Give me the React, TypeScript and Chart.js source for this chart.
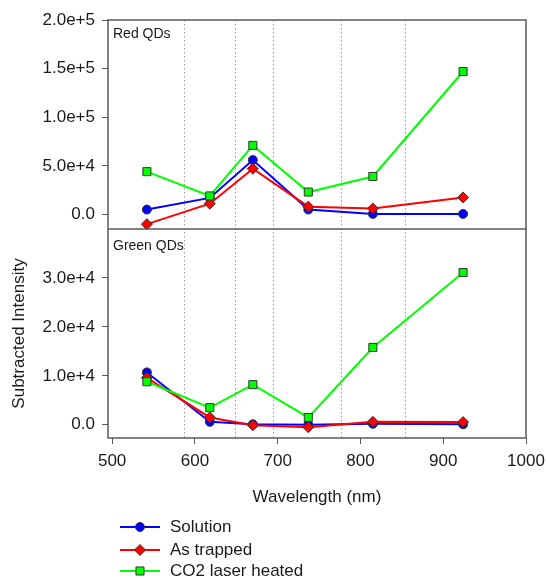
import React, { useEffect, useRef } from "react";
import { Chart, registerables } from "chart.js";

Chart.register(...registerables);

const wavelengths = [542, 618, 670, 737, 815, 924];
const redSolution = [5000, 17000, 56000, 5000, 500, 500];
const redTrapped = [-10000, 11000, 47000, 8000, 6000, 17500];
const redCO2 = [44000, 19000, 71000, 23000, 39000, 147000];
const greenSolution = [10700, 600, 100, 0, 200, 100];
const greenTrapped = [9600, 1500, -100, -500, 600, 550];
const greenCO2 = [8800, 3500, 8200, 1500, 15800, 31100];

const xTicks = [500, 600, 700, 800, 900, 1000];
const topTicks = [0, 50000, 100000, 150000, 200000];
const bottomTicks = [0, 10000, 20000, 30000];
const filterEdges = [587, 649, 694, 776, 854];

const seriesNames = ["Solution", "As trapped", "CO2 laser heated"];
const seriesColors = ["#0000ff", "#ff0000", "#00ff00"];
const seriesStyles = ["circle", "rectRot", "rect"];
const panelNames = ["Red QDs", "Green QDs"];

const FONT = "'Liberation Sans', Arial, Helvetica, sans-serif";
const TEXT = "#1a1a1a";
const FRAME = "#5a5a5a";

const fmt = (v: number) => (v === 0 ? "0.0" : Number(v).toExponential(1));
const pts = (ys: number[]) => wavelengths.map((x, i) => ({ x, y: ys[i] }));
const radiusFor = (s: string) => (s === "circle" ? 4.5 : s === "rectRot" ? 5.5 : 5.7);

function drawMarker(ctx: CanvasRenderingContext2D, style: string, x: number, y: number, color: string) {
  const r = radiusFor(style);
  ctx.beginPath();
  if (style === "circle") {
    ctx.arc(x, y, r, 0, Math.PI * 2);
  } else if (style === "rectRot") {
    ctx.moveTo(x, y - r);
    ctx.lineTo(x + r, y);
    ctx.lineTo(x, y + r);
    ctx.lineTo(x - r, y);
    ctx.closePath();
  } else {
    const h = r * Math.SQRT1_2;
    ctx.rect(x - h, y - h, 2 * h, 2 * h);
  }
  ctx.fillStyle = color;
  ctx.fill();
  ctx.lineWidth = 1;
  ctx.strokeStyle = "#333";
  ctx.stroke();
}

const decorPlugin = {
  id: "decor",
  beforeDatasetsDraw(chart: any) {
    const { ctx, chartArea: a, scales } = chart;
    ctx.save();
    ctx.strokeStyle = "#9a9a9a";
    ctx.lineWidth = 1;
    ctx.setLineDash([1.5, 2.5]);
    for (const w of filterEdges) {
      const px = Math.round(scales.x.getPixelForValue(w)) + 0.5;
      ctx.beginPath();
      ctx.moveTo(px, a.top);
      ctx.lineTo(px, a.bottom);
      ctx.stroke();
    }
    ctx.restore();
  },
  afterDatasetsDraw(chart: any) {
    const { ctx, chartArea: a, scales } = chart;
    ctx.save();
    ctx.strokeStyle = FRAME;
    ctx.lineWidth = 1.5;
    ctx.strokeRect(a.left, a.top, a.right - a.left, a.bottom - a.top);
    const mid = scales.yTop.bottom;
    ctx.beginPath();
    ctx.moveTo(a.left, mid);
    ctx.lineTo(a.right, mid);
    ctx.stroke();
    ctx.fillStyle = TEXT;
    ctx.font = `14px ${FONT}`;
    ctx.textBaseline = "middle";
    ctx.textAlign = "left";
    ctx.fillText(panelNames[0], a.left + 5, a.top + 14);
    ctx.fillText(panelNames[1], a.left + 5, mid + 17);
    ctx.restore();
  },
  afterDraw(chart: any) {
    const { ctx } = chart;
    ctx.save();
    const rowsY = [527, 550, 571];
    seriesNames.forEach((name, i) => {
      const y = rowsY[i];
      ctx.strokeStyle = seriesColors[i];
      ctx.lineWidth = 2;
      ctx.beginPath();
      ctx.moveTo(120, y);
      ctx.lineTo(160, y);
      ctx.stroke();
      drawMarker(ctx, seriesStyles[i], 140, y, seriesColors[i]);
      ctx.fillStyle = TEXT;
      ctx.font = `17px ${FONT}`;
      ctx.textAlign = "left";
      ctx.textBaseline = "middle";
      ctx.fillText(name, 170, y);
    });
    ctx.restore();
  },
};

function makeDataset(label: string, ys: number[], idx: number, axis: string) {
  return {
    label,
    data: pts(ys),
    yAxisID: axis,
    xAxisID: "x",
    borderColor: seriesColors[idx],
    backgroundColor: seriesColors[idx],
    borderWidth: 2,
    pointStyle: seriesStyles[idx],
    pointRadius: radiusFor(seriesStyles[idx]),
    pointBorderColor: "#333",
    pointBorderWidth: 1,
    pointBackgroundColor: seriesColors[idx],
    order: 3 - idx,
    tension: 0,
    clip: false,
  };
}

export default function App() {
  const ref = useRef<HTMLCanvasElement | null>(null);
  useEffect(() => {
    if (!ref.current) return;
    Chart.defaults.font.family = FONT;
    Chart.defaults.color = TEXT;
    const tickFont = { size: 17, family: FONT };
    const chart = new Chart(ref.current, {
      type: "line",
      data: {
        datasets: [
          makeDataset(seriesNames[0], redSolution, 0, "yTop"),
          makeDataset(seriesNames[1], redTrapped, 1, "yTop"),
          makeDataset(seriesNames[2], redCO2, 2, "yTop"),
          makeDataset(seriesNames[0], greenSolution, 0, "yBot"),
          makeDataset(seriesNames[1], greenTrapped, 1, "yBot"),
          makeDataset(seriesNames[2], greenCO2, 2, "yBot"),
        ] as any,
      },
      options: {
        responsive: false,
        animation: false,
        devicePixelRatio: 1,
        layout: { padding: { top: 20, right: 20, left: 0, bottom: 0 } },
        plugins: { legend: { display: false }, tooltip: { enabled: false } },
        scales: {
          x: {
            type: "linear",
            position: "bottom",
            min: 495,
            max: 1000,
            afterBuildTicks: (s: any) => {
              s.ticks = xTicks.map((v) => ({ value: v }));
            },
            afterFit: (s: any) => {
              s.height = 140;
              s.paddingRight = 0;
              s.paddingLeft = 0;
            },
            ticks: { font: tickFont, color: TEXT, padding: 7, autoSkip: false, maxRotation: 0, callback: (v: any) => String(v) },
            grid: { drawOnChartArea: false, drawTicks: true, tickLength: 6, color: FRAME, lineWidth: 1 },
            border: { display: false },
            title: { display: true, text: "Wavelength (nm)", font: tickFont, color: TEXT, padding: { top: 0, bottom: 70 } },
          },
          yBot: {
            type: "linear",
            position: "left",
            stack: "panels",
            stackWeight: 1,
            weight: 1,
            min: -2700,
            max: 40000,
            afterBuildTicks: (s: any) => {
              s.ticks = bottomTicks.map((v) => ({ value: v }));
            },
            afterFit: (s: any) => {
              s.width = 108;
            },
            ticks: { font: tickFont, color: TEXT, padding: 7, callback: (v: any) => fmt(v) },
            grid: { drawOnChartArea: false, drawTicks: true, tickLength: 6, color: FRAME, lineWidth: 1 },
            border: { display: false },
            title: { display: true, text: "Subtracted Intensity", font: tickFont, color: TEXT, padding: { top: 9, bottom: 0 } },
          },
          yTop: {
            type: "linear",
            position: "left",
            stack: "panels",
            stackWeight: 1,
            weight: 2,
            min: -15000,
            max: 200000,
            afterBuildTicks: (s: any) => {
              s.ticks = topTicks.map((v) => ({ value: v }));
            },
            afterFit: (s: any) => {
              s.width = 108;
            },
            ticks: { font: tickFont, color: TEXT, padding: 7, callback: (v: any) => fmt(v) },
            grid: { drawOnChartArea: false, drawTicks: true, tickLength: 6, color: FRAME, lineWidth: 1 },
            border: { display: false },
          },
        },
      } as any,
      plugins: [decorPlugin],
    });
    return () => chart.destroy();
  }, []);
  return (
    <div style={{ position: "fixed", left: 0, top: 0, width: 546, height: 578, background: "#fff" }}>
      <canvas ref={ref} width={546} height={578} style={{ display: "block", width: 546, height: 578 }} />
    </div>
  );
}
